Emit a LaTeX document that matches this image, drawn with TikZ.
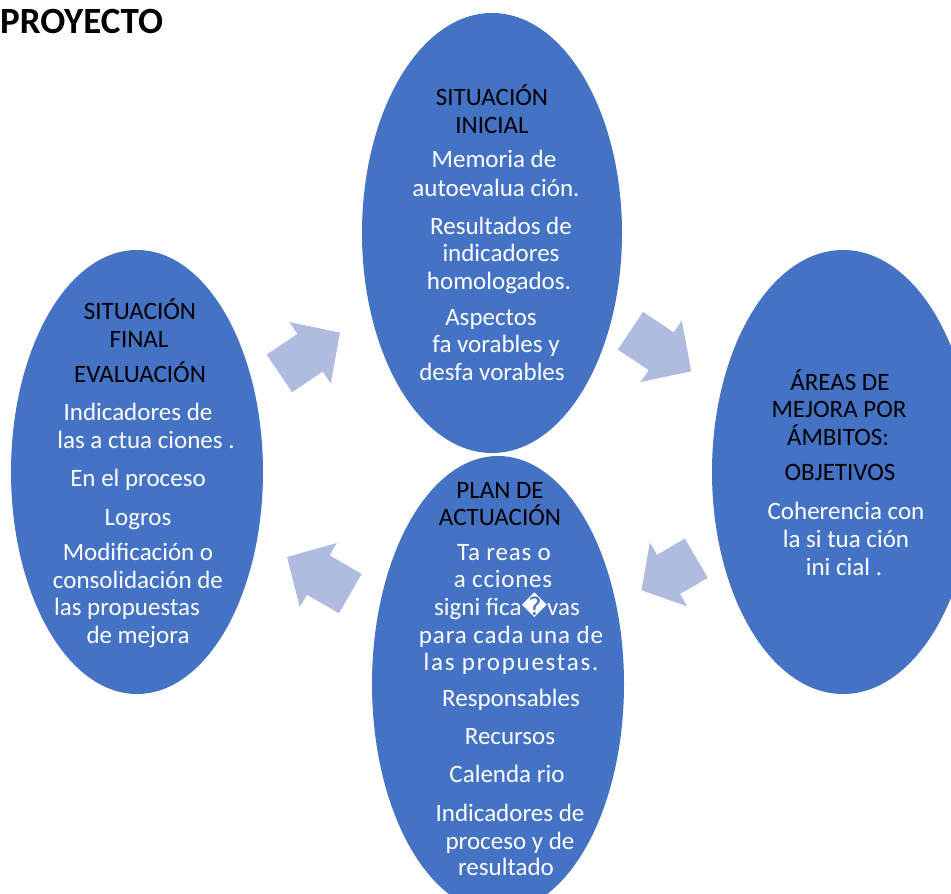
\documentclass[tikz,border=0pt]{standalone}
\usepackage{fontspec}
\setmainfont{Carlito}
\newfontfamily\dejavu{DejaVu Sans}
\usetikzlibrary{shapes.geometric}
\definecolor{ellblue}{HTML}{4472C4}
\definecolor{arrblue}{RGB}{175,188,224}
\newcommand\cyclearrow[4]{%
  \fill[blockarrow, shift={(#1,#2)}, rotate=#3, xscale=#4]
    (-36.5,-22.7) -- (0.5,-22.7) -- (0.5,-37) -- (36.5,0) -- (0.5,37) -- (0.5,22.7) -- (-36.5,22.7) -- cycle;}
\begin{document}
\begin{tikzpicture}[x=1pt,y=-1pt,
  bubble/.style={ellipse, fill=ellblue, draw=none, inner sep=0pt},
  head/.style={text=black, font=\fontsize{25}{28}\selectfont, anchor=base, inner sep=0pt},
  body/.style={text=white, font=\fontsize{25}{28}\selectfont, anchor=base, inner sep=0pt},
  blockarrow/.style={fill=arrblue, draw=none}]
\path[use as bounding box] (0,0) rectangle (951,894);
\clip (0,0) rectangle (951,894);
\fill[white] (0,0) rectangle (951,894);
% ellipses
\node[bubble, minimum width=260pt, minimum height=440pt] (sitini) at (492,233) {};
\node[bubble, minimum width=252pt, minimum height=456pt] (plan) at (498,684) {};
\node[bubble, minimum width=252pt, minimum height=444pt] (sitfin) at (137,472) {};
\node[bubble, minimum width=262pt, minimum height=444pt] (areas) at (843,472) {};
% cycle arrows
\cyclearrow{309.7}{353}{34}{1}
\cyclearrow{660.8}{351}{-33.8}{1}
\cyclearrow{668.9}{574.2}{210.3}{0.87}
\cyclearrow{318.7}{575.3}{150}{1}
% title
\node[font=\bfseries\fontsize{37}{44}\selectfont, anchor=base west, inner sep=0pt] (title) at (0,34) {PROYECTO};
% texts
\foreach \px/\py/\st/\tx [count=\i] in {
  492/96/head/SITUACIÓN, 492/124/head/INICIAL,
  494/158/body/Memoria de, 496/187/body/autoevalua ción.,
  501/225/body/Resultados de, 501/252/body/indicadores, 499/280/body/homologados.,
  491/316/body/Aspectos, 496/343/body/fa vorables y, 492/371/body/desfa vorables,
  140/310/head/SITUACIÓN, 139/338/head/FINAL, 140/373/head/EVALUACIÓN,
  138/411/body/Indicadores de, 146/439/body/las a ctua ciones .,
  138/477/body/En el proceso, 138/516/body/Logros,
  138/551/body/Modificación o, 138/579/body/consolidación de,
  127/606/body/las propuestas, 138/634/body/de mejora,
  840/381/head/ÁREAS DE, 839/408/head/MEJORA POR, 838/436/head/ÁMBITOS:,
  840/471/head/OBJETIVOS,
  846/510/body/Coherencia con, 846/538/body/la si tua ción, 844/566/body/ini cial .,
  500/489/head/PLAN DE, 500/516/head/ACTUACIÓN,
  504/551/body/{\addfontfeature{LetterSpace=3}Ta reas o}, 503/578/body/{\addfontfeature{LetterSpace=3}a cciones},
  507/606/body/signi fica{\dejavu �}vas, 511/634/body/{\addfontfeature{LetterSpace=3.5}para cada una de},
  511/661/body/{\addfontfeature{LetterSpace=7}las propuestas.},
  511/697/body/Responsables, 510/735/body/Recursos, 507/773/body/Calenda rio,
  510/812/body/Indicadores de, 510/840/body/proceso y de, 506/866/body/resultado}
  \node[\st] (ln\i) at (\px,\py+9) {\tx};
\end{tikzpicture}
\end{document}
